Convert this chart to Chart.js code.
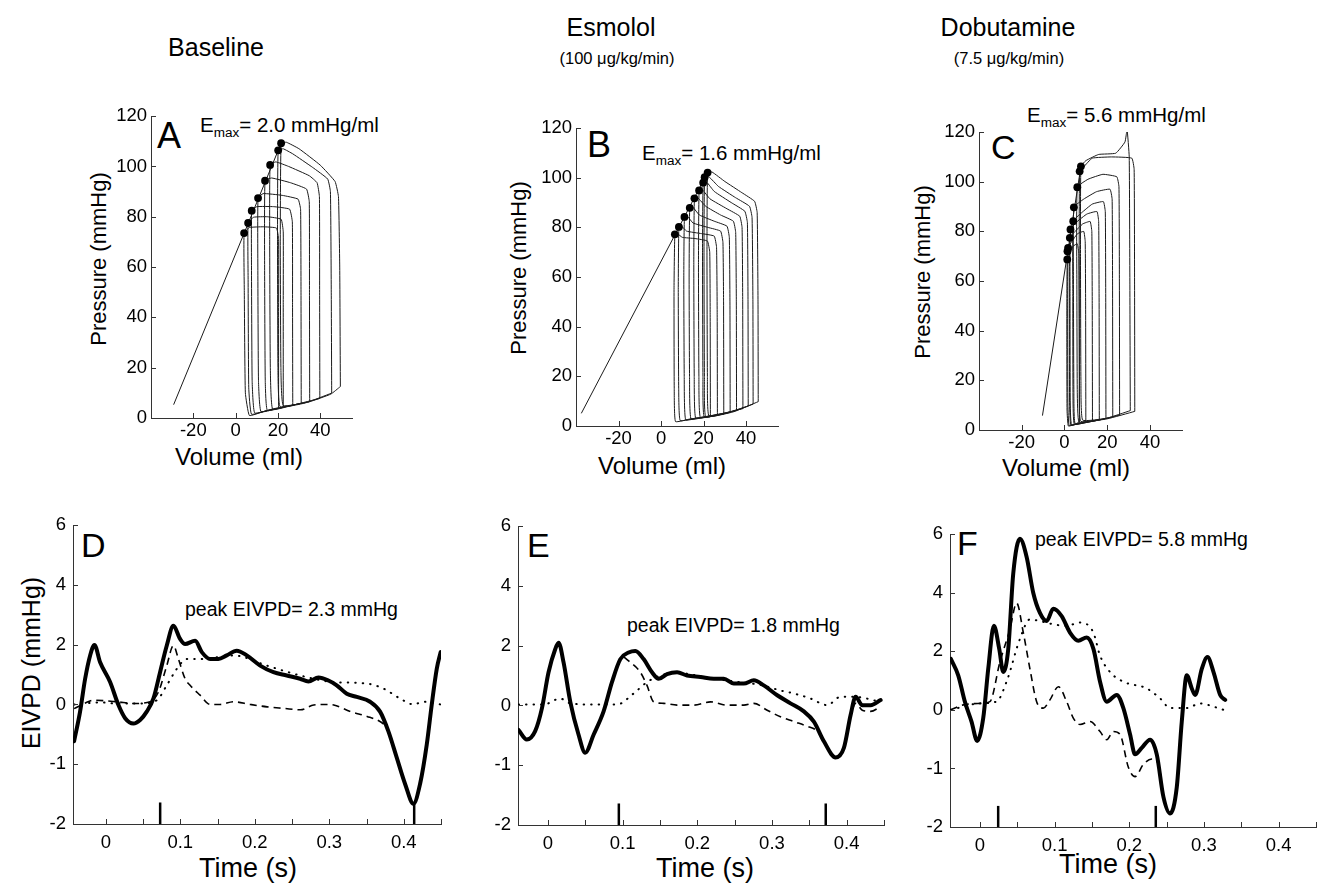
<!DOCTYPE html>
<html><head><meta charset="utf-8">
<script src="https://cdn.jsdelivr.net/npm/chart.js@4.4.0/dist/chart.umd.min.js"></script>
<style>
html,body{margin:0;padding:0;background:#fff;}
body{width:1329px;height:886px;position:relative;overflow:hidden;font-family:"Liberation Sans",Arial,sans-serif;color:#000;}
canvas{position:absolute;}
.txt{position:absolute;white-space:nowrap;line-height:1;}
.c{transform:translate(-50%,-50%);}
.l{transform:translate(0,-50%);}
.v{transform:translate(-50%,-50%) rotate(-90deg);}
sub{font-size:0.66em;vertical-align:-0.4em;line-height:0;}
</style></head><body>

<div class="txt c" style="left:216px;top:47px;font-size:25px">Baseline</div>
<div class="txt c" style="left:611px;top:27px;font-size:25px">Esmolol</div>
<div class="txt c" style="left:617px;top:58px;font-size:16.5px">(100 μg/kg/min)</div>
<div class="txt c" style="left:1008px;top:27px;font-size:25px">Dobutamine</div>
<div class="txt c" style="left:1009px;top:58px;font-size:16.5px">(7.5 μg/kg/min)</div>

<div class="txt l" style="left:157px;top:136px;font-size:36px">A</div>
<div class="txt l" style="left:587px;top:145px;font-size:36px">B</div>
<div class="txt l" style="left:991px;top:147px;font-size:34px">C</div>
<div class="txt l" style="left:81px;top:545px;font-size:34px">D</div>
<div class="txt l" style="left:527px;top:545px;font-size:34px">E</div>
<div class="txt l" style="left:957px;top:543px;font-size:34px">F</div>

<div class="txt l" style="left:200px;top:125px;font-size:20.5px">E<sub>max</sub>= 2.0 mmHg/ml</div>
<div class="txt l" style="left:642px;top:153px;font-size:20.5px">E<sub>max</sub>= 1.6 mmHg/ml</div>
<div class="txt l" style="left:1027px;top:115px;font-size:20.5px">E<sub>max</sub>= 5.6 mmHg/ml</div>

<div class="txt l" style="left:185px;top:610px;font-size:19.5px">peak EIVPD= 2.3 mmHg</div>
<div class="txt l" style="left:627px;top:626px;font-size:19.5px">peak EIVPD= 1.8 mmHg</div>
<div class="txt l" style="left:1035px;top:540px;font-size:19.5px">peak EIVPD= 5.8 mmHg</div>

<div class="txt v" style="left:99px;top:259px;font-size:22px">Pressure (mmHg)</div>
<div class="txt v" style="left:519px;top:268px;font-size:22px">Pressure (mmHg)</div>
<div class="txt v" style="left:923px;top:272px;font-size:22px">Pressure (mmHg)</div>
<div class="txt c" style="left:239px;top:457px;font-size:24px">Volume (ml)</div>
<div class="txt c" style="left:662px;top:466px;font-size:24px">Volume (ml)</div>
<div class="txt c" style="left:1066px;top:468px;font-size:24px">Volume (ml)</div>
<div class="txt v" style="left:31px;top:663px;font-size:25px">EIVPD (mmHg)</div>
<div class="txt c" style="left:248px;top:868px;font-size:27px">Time (s)</div>
<div class="txt c" style="left:705px;top:868px;font-size:27px">Time (s)</div>
<div class="txt c" style="left:1108px;top:864px;font-size:27px">Time (s)</div>

<script>
// ---------------- DATA ----------------
// Tick values / labels
const volumeTicks = [-20, 0, 20, 40];
const pressureTicks = [0, 20, 40, 60, 80, 100, 120];
const timeTicks = [0, 0.05, 0.1, 0.15, 0.2, 0.25, 0.3, 0.35, 0.4, 0.45];
const timeTickLabels = ['0', '', '0.1', '', '0.2', '', '0.3', '', '0.4', ''];
const eivpdTicks = [-2, -1, 0, 2, 4, 6];

// Panel A (Baseline) pressure-volume loops [volume ml, pressure mmHg]
const loopsA = [
 [[49.5,12.5],[49.2,60],[48.6,88],[47,94],[40,100.5],[30,107],[24,109.6],[21.5,109.2],[21.1,70],[21.4,20],[22.5,5],[35,6.5],[45,9.5],[49.5,12.5]],
 [[45.4,9.9],[45.2,50],[44.8,90],[43.5,95],[36.4,99.6],[27,105],[22.5,107],[20.1,106.4],[19.8,70],[20,20],[21,4.5],[33,6],[45.4,9.9]],
 [[39.8,7.8],[39.7,50],[39.6,88],[38.5,93.5],[34.8,96.3],[25,100],[19,101.8],[16.3,100.6],[16.1,70],[16.4,20],[17.5,3.5],[28,5.3],[39.8,7.8]],
 [[35,6.5],[34.9,50],[34.8,86],[33.5,91],[26,93.5],[17,95.4],[13.9,94.3],[13.7,60],[14,15],[15,3],[25,4.8],[35,6.5]],
 [[31,5.8],[30.9,50],[30.7,83],[29.5,87],[22,88.5],[13,89.2],[10.6,87.4],[10.5,60],[10.8,15],[12,2.5],[22,4.3],[31,5.8]],
 [[27,5],[26.9,45],[26.8,78],[25.5,83],[18,84],[10,84],[7.6,82.4],[7.5,60],[7.8,15],[9,2],[18,3.7],[27,5]],
 [[22.5,4.2],[22.5,45],[22.5,74],[21.5,79],[15,80],[8.5,79.8],[5.9,77.5],[5.9,55],[6.2,12],[7.5,1.5],[15,3],[22.5,4.2]],
 [[20.3,4],[20.3,40],[20.3,71],[19.3,75.5],[13,76],[6.5,75.7],[4,73.5],[4.1,50],[4.6,10],[6.5,1],[13,2.5],[20.3,4]]
];
const espvrA = [[-29.3,5.3],[21.5,109.2]];
const esPointsA = [[4,73.5],[5.9,77.5],[7.6,82.4],[10.6,87.4],[13.9,94.3],[16.3,100.6],[20.1,106.4],[21.5,109.2]];

// Panel B (Esmolol)
const loopsB = [
 [[45.7,9.8],[45.6,50],[45.2,86],[44,90.5],[38,94],[30,98.5],[24,102.3],[21.9,102.1],[21.6,70],[21.8,20],[22.5,4],[34,5.7],[45.7,9.8]],
 [[43.3,8.8],[43.2,50],[42.8,84],[41.6,88.5],[35,92],[27,96.5],[22.5,100.4],[20.5,100.2],[20.2,70],[20.4,20],[21,3.8],[32,5.4],[43.3,8.8]],
 [[41,8],[40.9,50],[40.6,82],[39.4,86.5],[33,90],[25,94.5],[21.5,98.2],[19.8,98],[19.5,70],[19.7,20],[20.3,3.7],[30,5.1],[41,8]],
 [[38.5,7],[38.4,50],[38.1,80],[37,84.5],[31,87.5],[23,91.5],[19.5,95.1],[17.9,94.9],[17.6,65],[17.8,20],[18.5,3.4],[28,4.8],[38.5,7]],
 [[35.5,6.2],[35.4,50],[35.1,78],[34,82.5],[28,85],[21,88.5],[17.3,91.9],[15.7,91.7],[15.4,65],[15.6,20],[16.3,3.1],[25,4.4],[35.5,6.2]],
 [[32.5,5.5],[32.4,50],[32.1,76],[31,80.5],[25,82.5],[18,85],[15,88.1],[13.5,87.9],[13.2,60],[13.4,20],[14.1,2.8],[23,4.1],[32.5,5.5]],
 [[29.5,4.8],[29.4,50],[29.1,74],[28,78.5],[22,80],[15,81.8],[12.5,84.4],[11,84.2],[10.7,60],[10.9,20],[11.6,2.5],[20,3.7],[29.5,4.8]],
 [[26.5,4.2],[26.4,45],[26.1,72],[25,76.5],[19,77.5],[12,78.5],[9.8,80.4],[8.4,80.2],[8.1,55],[8.3,15],[9,2.2],[17,3.3],[26.5,4.2]],
 [[23.2,3.7],[23.1,45],[22.9,70],[21.8,74.5],[16,75.5],[10,76],[7.8,77.4],[6.5,77.2],[6.1,55],[6.2,15],[6.8,1.8],[14,2.9],[23.2,3.7]]
];
const espvrB = [[-37.5,5.1],[21.9,102.1]];
const esPointsB = [[6.5,77.2],[8.4,80.2],[11,84.2],[13.5,87.9],[15.7,91.7],[17.9,94.9],[19.8,98],[20.5,100.2],[21.9,102.1]];

// Panel C (Dobutamine)
const loopsC = [
 [[30.8,7.8],[30.6,60],[30.3,110],[29.3,121],[28.3,116],[24,111.5],[16,111],[10,108.5],[7.7,106.2],[7.5,70],[7.7,20],[8.5,4],[20,4.8],[30.8,7.8]],
 [[32.9,7.5],[32.8,60],[32.6,105],[31.5,109.5],[22,110],[13,109.5],[9,106],[7.1,104.2],[6.9,70],[7,20],[7.6,3.5],[20,4.5],[32.9,7.5]],
 [[25.8,6],[25.7,60],[25.5,98],[24.5,102],[18,103],[11,101],[6,97.8],[5.8,60],[6,15],[6.8,3],[15,3.8],[25.8,6]],
 [[22.6,5.2],[22.5,60],[22.3,93],[21.3,97],[15,96],[9,93],[4.4,89.7],[4.2,60],[4.4,15],[5,2.5],[13,3.5],[22.6,5.2]],
 [[19.4,4.6],[19.3,55],[19.1,88],[18.2,92],[13,91],[8,87.5],[4.1,84.1],[3.9,55],[4,12],[4.6,2.3],[11,3.2],[19.4,4.6]],
 [[16.3,4.2],[16.2,55],[16,84],[15.2,88],[10.5,87],[6,84],[2.8,80.8],[2.6,55],[2.7,12],[3.3,2.1],[9,3],[16.3,4.2]],
 [[13.1,3.8],[13,50],[12.8,80],[12,84],[8.5,83],[5,80],[2.5,77.4],[2.3,50],[2.4,10],[3,2],[8,2.8],[13.1,3.8]],
 [[10,3.5],[9.9,50],[9.7,76],[9,80],[6,79],[3.5,76],[1.7,73.4],[1.5,50],[1.6,10],[2.2,1.8],[6,2.5],[10,3.5]],
 [[7,3.2],[6.9,45],[6.7,71],[6,75],[4,74],[2.5,71],[1.3,68.7],[1.1,45],[1.2,8],[1.8,1.6],[4.5,2.2],[7,3.2]]
];
const espvrC = [[-10.3,5.8],[7.7,106.2]];
const esPointsC = [[1.3,68.7],[1.4,72],[1.7,73.4],[2.5,77.4],[2.8,80.8],[4.1,84.1],[4.4,89.7],[6,97.8],[7.1,104.2],[7.7,106.2]];

// Panel D (Baseline EIVPD) [time s, mmHg]
const solidD = [[-0.0425,-0.615],[-0.0345,-0.12],[-0.0277,0.86],[-0.021,1.64],[-0.0152,1.99],[-0.0076,1.41],[0.0058,0.75],[0.017,-0.01],[0.026,-0.23],[0.0371,-0.32],[0.0461,-0.26],[0.055,-0.12],[0.064,0.2],[0.0729,1.08],[0.0819,1.97],[0.0908,2.63],[0.0998,2.19],[0.1065,2.02],[0.12,2.13],[0.1289,1.75],[0.14,1.52],[0.1512,1.52],[0.1624,1.64],[0.1758,1.8],[0.1893,1.64],[0.2072,1.3],[0.2251,1.08],[0.243,0.97],[0.2608,0.86],[0.272,0.77],[0.2855,0.9],[0.2989,0.8],[0.31,0.64],[0.3235,0.36],[0.3369,0.25],[0.3548,0.09],[0.3682,-0.12],[0.3794,-0.45],[0.3906,-0.89],[0.4018,-1.33],[0.413,-1.66],[0.4219,-1.33],[0.4309,-0.67],[0.4376,0],[0.4443,1.19],[0.4495,1.75]];
const dashedD = [[-0.0425,-0.07],[-0.0255,0.07],[-0.0166,0.14],[0.0148,0.09],[0.0371,0.03],[0.0595,0.09],[0.0707,0.42],[0.0819,1.3],[0.0908,1.97],[0.0975,1.52],[0.1065,0.86],[0.1132,0.64],[0.1266,0.31],[0.14,0],[0.1535,0],[0.1714,0.09],[0.1938,0],[0.2166,-0.04],[0.239,-0.066],[0.2613,-0.09],[0.2792,-0.01],[0.2949,0],[0.3061,-0.01],[0.3285,-0.12],[0.3508,-0.2],[0.3687,-0.29],[0.3794,-0.4]];
const dottedD = [[-0.0425,0],[-0.0076,0.07],[0.0148,0.03],[0.0461,0.03],[0.0685,0.14],[0.0819,0.64],[0.0953,1.19],[0.1087,1.52],[0.1266,1.52],[0.1714,1.64],[0.2162,1.3],[0.2608,0.97],[0.3055,0.75],[0.3503,0.7],[0.3727,0.53],[0.395,0.2],[0.413,0],[0.4264,0.09],[0.4495,0]];
const eventsD = [0.073, 0.414];

// Panel E (Esmolol EIVPD)
const solidE = [[-0.0393,-0.41],[-0.0282,-0.57],[-0.017,-0.43],[-0.008,-0.05],[0.0009,1.11],[0.0098,1.88],[0.0143,2.1],[0.021,1.44],[0.03,0.12],[0.0411,-0.49],[0.05,-0.79],[0.0612,-0.49],[0.0746,-0.1],[0.0858,0.78],[0.097,1.55],[0.1081,1.77],[0.1171,1.82],[0.1282,1.55],[0.1394,1.11],[0.1483,0.89],[0.1595,1.05],[0.173,1.11],[0.1863,1.0],[0.2042,0.95],[0.2221,0.89],[0.2355,0.89],[0.2489,0.73],[0.2623,0.73],[0.2757,0.84],[0.2891,0.67],[0.307,0.34],[0.3248,0.07],[0.3427,-0.1],[0.3561,-0.27],[0.3695,-0.6],[0.3852,-0.87],[0.3963,-0.71],[0.4053,-0.16],[0.412,0.29],[0.4209,0.01],[0.4321,0.01],[0.4455,0.18]];
const dashedE = [[0.102,1.62],[0.1081,1.49],[0.1238,1.11],[0.1327,0.67],[0.1416,0.12],[0.155,0.07],[0.173,0.01],[0.1953,0.01],[0.2176,0.12],[0.24,0.01],[0.2623,0.01],[0.2757,0.07],[0.2936,-0.08],[0.3114,-0.19],[0.3293,-0.27],[0.3472,-0.35],[0.3606,-0.43],[0.3695,-0.6],[0.3852,-0.87],[0.3963,-0.71],[0.4053,-0.19],[0.412,0.07],[0.4209,-0.08],[0.4321,-0.1],[0.4455,-0.02]];
const dottedE = [[-0.0393,0.03],[-0.0058,0.03],[0.0165,0.23],[0.03,0.07],[0.0612,0.03],[0.0925,0.03],[0.1148,0.4],[0.1327,0.78],[0.1506,1.0],[0.173,1.09],[0.2176,0.91],[0.2623,0.76],[0.2846,0.69],[0.3114,0.5],[0.3293,0.4],[0.3517,0.23],[0.374,0.01],[0.3919,0.29],[0.4097,0.29],[0.4455,0.12]];
const eventsE = [0.095, 0.372];

// Panel F (Dobutamine EIVPD)
const solidF = [[-0.0389,1.74],[-0.029,1.18],[-0.0201,0.28],[-0.0112,-0.2],[-0.0036,-0.53],[0.0045,-0.14],[0.0112,1.4],[0.0188,2.87],[0.0259,2.08],[0.0313,1.29],[0.038,2.08],[0.0447,4.66],[0.0536,5.84],[0.0626,5.22],[0.0715,3.99],[0.0804,3.31],[0.0894,3.03],[0.0983,3.45],[0.1095,3.2],[0.1206,2.64],[0.1318,2.36],[0.143,2.47],[0.152,2.08],[0.1609,0.96],[0.1698,0.28],[0.1832,0.51],[0.1921,0.06],[0.2011,-0.42],[0.2078,-0.76],[0.2167,-0.65],[0.2279,-0.51],[0.2368,-0.76],[0.2458,-1.49],[0.2547,-1.77],[0.2636,-1.32],[0.2703,-0.2],[0.277,1.18],[0.2837,0.73],[0.2882,0.51],[0.2971,1.4],[0.3047,1.8],[0.3128,1.29],[0.3217,0.51],[0.3284,0.34]];
const dashedF = [[-0.0389,0],[-0.0223,0.17],[0,0.22],[0.0134,0.28],[0.0268,1.63],[0.0402,2.75],[0.0492,3.65],[0.0581,2.64],[0.067,1.4],[0.076,0.28],[0.0849,0.06],[0.0938,0.34],[0.105,0.79],[0.1162,0.28],[0.1251,-0.14],[0.134,-0.25],[0.1475,-0.2],[0.1609,-0.37],[0.1698,-0.51],[0.1787,-0.37],[0.1877,-0.42],[0.1988,-0.98],[0.2078,-1.14],[0.2189,-0.93],[0.2301,-0.84],[0.2391,-0.93],[0.2458,-1.49]];
const dottedF = [[-0.0389,0],[0,0.22],[0.0223,0.28],[0.0357,0.96],[0.0536,2.42],[0.067,3.09],[0.0804,3.03],[0.0983,2.92],[0.1162,2.87],[0.134,2.98],[0.1519,2.64],[0.1609,1.85],[0.1743,1.29],[0.1921,0.96],[0.2234,0.73],[0.2413,0.39],[0.2547,0.06],[0.277,0.06],[0.2949,0.22],[0.3128,0.11],[0.3262,0]];
const eventsF = [0.0245, 0.2355];
const eventMarkTop = -1.64;

// ---------------- RENDERING ----------------
const FONT = '"Liberation Sans", Arial, sans-serif';
const INK = '#000';
const AXIS = '#333';
const TICK_FONT = 18.5;

// y axis of EIVPD panels: positive range drawn at half the scale of the negative range
class BrokenScale extends Chart.LinearScale {
  getPixelForValue(value) {
    return super.getPixelForValue(value < 0 ? value * 2 : value);
  }
  getValueForPixel(pixel) {
    const v = super.getValueForPixel(pixel);
    return v < 0 ? v / 2 : v;
  }
}
BrokenScale.id = 'broken';
BrokenScale.defaults = Chart.LinearScale.defaults;
Chart.register(BrokenScale);

const inwardTicks = {
  id: 'inwardTicks',
  afterDraw(chart) {
    const {ctx, chartArea: a, scales: {x, y}} = chart;
    ctx.save();
    ctx.strokeStyle = AXIS; ctx.lineWidth = 1;
    ctx.beginPath();
    x.ticks.forEach((t, i) => {
      const px = Math.round(x.getPixelForTick(i)) + 0.5;
      ctx.moveTo(px, a.bottom); ctx.lineTo(px, a.bottom - 5);
    });
    y.ticks.forEach((t, i) => {
      const py = Math.round(y.getPixelForTick(i)) + 0.5;
      ctx.moveTo(a.left, py); ctx.lineTo(a.left + 5, py);
    });
    ctx.stroke();
    ctx.restore();
  }
};

const WY = 70, HX = 40, PT = 14, PR = 14;

function makeCanvas(box) {
  const c = document.createElement('canvas');
  const w = Math.round(box.R - box.L) + WY + PR;
  const h = Math.round(box.B - box.T) + PT + HX;
  c.width = w; c.height = h;
  c.style.left = (box.L - WY) + 'px';
  c.style.top = (box.T - PT) + 'px';
  c.style.width = w + 'px'; c.style.height = h + 'px';
  document.body.appendChild(c);
  return c;
}

const pts = arr => arr.map(([x, y]) => ({x, y}));

function axisCommon(tickVals, labelFn, pad, isX) {
  return {
    afterBuildTicks: s => { s.ticks = tickVals.map(v => ({value: v})); },
    ticks: {
      autoSkip: false, maxRotation: 0, padding: pad, color: INK,
      font: {family: FONT, size: TICK_FONT},
      callback: labelFn
    },
    grid: {display: false, drawTicks: false},
    border: {display: true, color: AXIS, width: 1},
    afterFit: s => { if (isX) s.height = HX; else s.width = WY; }
  };
}

function baseOptions(scales) {
  return {
    responsive: false, animation: false, events: [],
    layout: {padding: {top: PT, right: PR, left: 0, bottom: 0}},
    plugins: {legend: {display: false}, tooltip: {enabled: false}},
    scales
  };
}

function pvChart(box, loops, espvr, esPoints) {
  const datasets = [];
  datasets.push({data: pts(esPoints), showLine: false, pointRadius: 3.9, pointBackgroundColor: '#000', pointBorderWidth: 0});
  loops.forEach(l => datasets.push({data: pts(l), showLine: true, borderColor: '#1a1a1a', borderWidth: 1, pointRadius: 0, tension: 0.12}));
  datasets.push({data: pts(espvr), showLine: true, borderColor: '#1a1a1a', borderWidth: 1, pointRadius: 0});
  new Chart(makeCanvas(box), {
    type: 'scatter',
    data: {datasets},
    options: baseOptions({
      x: Object.assign({type: 'linear', min: -40, max: 55}, axisCommon(volumeTicks, v => String(v), 2, true)),
      y: Object.assign({type: 'linear', min: 0, max: 120}, axisCommon(pressureTicks, v => String(v), 4, false))
    }),
    plugins: [inwardTicks]
  });
}

function eivpdChart(box, xmin, solid, dashed, dotted, events) {
  const datasets = [
    {data: pts(solid), showLine: true, borderColor: '#000', borderWidth: 4, pointRadius: 0, cubicInterpolationMode: 'monotone', borderJoinStyle: 'round', borderCapStyle: 'round'},
    {data: pts(dashed), showLine: true, borderColor: '#000', borderWidth: 1.6, borderDash: [7, 5], pointRadius: 0, cubicInterpolationMode: 'monotone'},
    {data: pts(dotted), showLine: true, borderColor: '#000', borderWidth: 2, borderDash: [0.5, 7], borderCapStyle: 'round', pointRadius: 0, cubicInterpolationMode: 'monotone'}
  ];
  events.forEach(t => datasets.push({data: [{x: t, y: -2}, {x: t, y: eventMarkTop}], showLine: true, borderColor: '#000', borderWidth: 2.5, pointRadius: 0}));
  new Chart(makeCanvas(box), {
    type: 'scatter',
    data: {datasets},
    options: baseOptions({
      x: Object.assign({type: 'linear', min: xmin, max: 0.45}, axisCommon(timeTicks, (v, i) => timeTickLabels[i], 8, true)),
      y: Object.assign({type: 'broken', min: -4, max: 6}, axisCommon(eivpdTicks, v => String(v), 7, false))
    }),
    plugins: [inwardTicks]
  });
}

pvChart({L: 151, R: 352, T: 115, B: 418}, loopsA, espvrA, esPointsA);
pvChart({L: 575.7, R: 778, T: 126.7, B: 426}, loopsB, espvrB, esPointsB);
pvChart({L: 979.3, R: 1182.3, T: 130.7, B: 429.3}, loopsC, espvrC, esPointsC);
eivpdChart({L: 72.7, R: 441, T: 520.7, B: 823.3}, -0.044, solidD, dashedD, dottedD, eventsD);
eivpdChart({L: 517.7, R: 883.3, T: 521.7, B: 825}, -0.04, solidE, dashedE, dottedE, eventsE);
eivpdChart({L: 950, R: 1316, T: 530, B: 826.7}, -0.04, solidF, dashedF, dottedF, eventsF);
</script>
</body></html>
